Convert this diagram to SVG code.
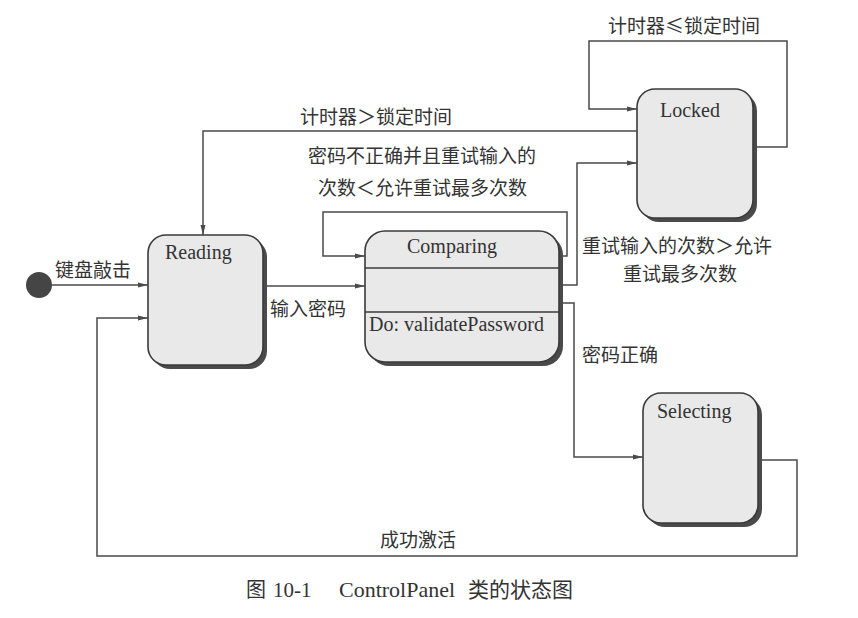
<svg xmlns="http://www.w3.org/2000/svg" width="858" height="618" viewBox="0 0 858 618">
<defs>
<style>
.box{fill:#e9e9e9;stroke:#3a3a3a;stroke-width:1.6}
.shadow{fill:#4a4a4a}
.sep{stroke:#3a3a3a;stroke-width:1.6}
.conn{fill:none;stroke:#4a4a4a;stroke-width:1.5}
.lat{font-family:"Liberation Serif","Times New Roman",serif;font-size:20px;fill:#333}
.cjk{font-family:"Noto Sans CJK SC","Noto Sans",sans-serif;font-size:19px;fill:#333}
</style>
<marker id="arr" viewBox="0 0 10 6" refX="10" refY="3" markerWidth="10" markerHeight="6" markerUnits="userSpaceOnUse" orient="auto">
<path d="M0,0.5 L10,3 L0,5.5 Z" fill="#4a4a4a"/>
</marker>
</defs>
<rect width="858" height="618" fill="#ffffff"/>

<g id="initial">
<circle cx="39" cy="285" r="13" fill="#454545"/>
</g>

<g id="Reading">
<rect class="shadow" x="152" y="239" width="115" height="130" rx="18"/>
<rect class="box" x="148" y="235" width="115" height="130" rx="18"/>
<text class="lat" x="165" y="259">Reading</text>
</g>

<g id="Comparing">
<rect class="shadow" x="369" y="235" width="194" height="131" rx="20"/>
<rect class="box" x="365" y="231" width="194" height="131" rx="20"/>
<line class="sep" x1="365" y1="268" x2="559" y2="268"/>
<line class="sep" x1="365" y1="312" x2="559" y2="312"/>
<text class="lat" x="452" y="253" text-anchor="middle">Comparing</text>
<text class="lat" x="369" y="331">Do: validatePassword</text>
</g>

<g id="Locked">
<rect class="shadow" x="641" y="93" width="116" height="129" rx="18"/>
<rect class="box" x="637" y="89" width="116" height="129" rx="18"/>
<text class="lat" x="660" y="117">Locked</text>
</g>

<g id="Selecting">
<rect class="shadow" x="647" y="397" width="115" height="130" rx="18"/>
<rect class="box" x="643" y="393" width="115" height="130" rx="18"/>
<text class="lat" x="657" y="418">Selecting</text>
</g>

<g id="connectors">
<path class="conn" d="M52,285 L148,285" marker-end="url(#arr)"/>
<path class="conn" d="M267,286 L365,286" marker-end="url(#arr)"/>
<path class="conn" d="M563,256 L567,256 L567,212 L323,212 L323,256 L365,256" marker-end="url(#arr)"/>
<path class="conn" d="M563,285 L577,285 L577,163 L637,163" marker-end="url(#arr)"/>
<path class="conn" d="M563,303 L574,303 L574,457 L643,457" marker-end="url(#arr)"/>
<path class="conn" d="M762,460 L797,460 L797,556 L97,556 L97,318 L148,318" marker-end="url(#arr)"/>
<path class="conn" d="M637,131 L203,131 L203,235" marker-end="url(#arr)"/>
<path class="conn" d="M757,147 L787,147 L787,41 L589,41 L589,109 L637,109" marker-end="url(#arr)"/>
</g>

<g id="labels">
<text class="cjk" x="55" y="277">键盘敲击</text>
<text class="cjk" x="270" y="316">输入密码</text>
<text class="cjk" x="300" y="124">计时器＞锁定时间</text>
<text class="cjk" x="308" y="163">密码不正确并且重试输入的</text>
<text class="cjk" x="318" y="195">次数＜允许重试最多次数</text>
<text class="cjk" x="582" y="253">重试输入的次数＞允许</text>
<text class="cjk" x="623" y="281">重试最多次数</text>
<text class="cjk" x="582" y="362">密码正确</text>
<text class="cjk" x="608" y="33">计时器≤锁定时间</text>
<text class="cjk" x="380" y="547">成功激活</text>
</g>

<g id="caption">
<text class="cjk" x="246" y="597" style="font-size:20px">图</text>
<text class="lat" x="273" y="597" style="font-size:21px">10-1</text>
<text class="lat" x="339" y="597" style="font-size:22px">ControlPanel</text>
<text class="cjk" x="468" y="597" style="font-size:21px">类的状态图</text>
</g>
</svg>
